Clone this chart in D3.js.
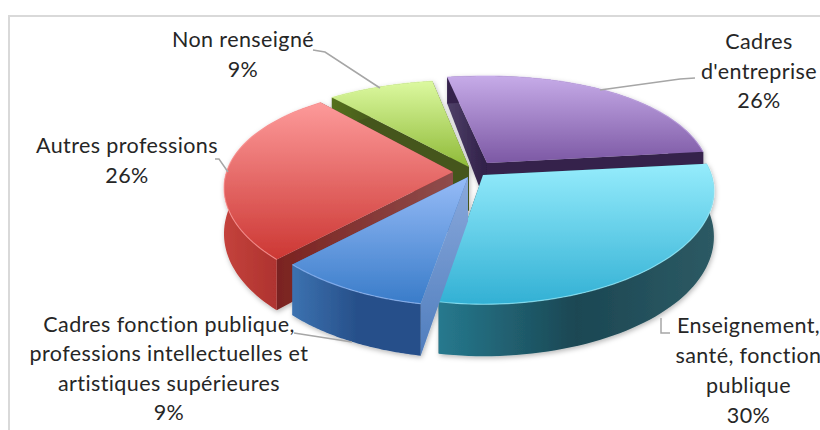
<!DOCTYPE html>
<html><head><meta charset="utf-8">
<script src="https://cdn.jsdelivr.net/npm/d3@7/dist/d3.min.js"></script>
<style>html,body{margin:0;padding:0;background:#fff;overflow:hidden}svg{display:block}</style>
</head><body><svg id="c" width="820" height="430"></svg>
<script>
// ---- data ----
const categories = ["Cadres d'entreprise","Enseignement, santé, fonction publique","Cadres fonction publique, professions intellectuelles et artistiques supérieures","Autres professions","Non renseigné"];
const values = [26.24, 29.6, 9.49, 26.16, 8.51];
const topLight = ["#c6abe8","#95ecfc","#96bbf7","#fd9a9a","#dcf9a0"];
const topDark  = ["#7c58a4","#32b0d4","#397cc9","#cc3733","#8fba38"];
const outerA   = ["#35234c","#26798e","#3c72b0","#c4423c","#55701f"];
const outerB   = ["#35234c","#1b4753","#27508a","#b03430","#44561f"];
const outerC   = ["#35234c","#2d5a64","#27508a","#a82c29","#44561f"];
const startWallA = ["#4f4068","#1b4753","#8aa9dc","#7a2320","#44561f"];
const startWallB = ["#2f1f47","#1b4753","#4f7dbd","#8f4c4c","#44561f"];
const endWallA   = ["#35234c","#1b4753","#3c6fb2","#8f4c4c","#44561f"];
const endWallB   = ["#35234c","#1b4753","#3c6fb2","#7a2320","#44561f"];
const labelLines = [["Cadres","d'entreprise"],["Enseignement,","santé, fonction","publique"],["Cadres fonction publique,","professions intellectuelles et","artistiques supérieures"],["Autres professions"],["Non renseigné"]];
const drawOrder = [0,4,3,1,2];

// ---- layout ----
const W=820,H=430,R=235,cx=470,cy=170,startDeg=-10.5,persp=.15;
const sliceDX=[17,13,-2,-17,-1], sliceDY=[-7,5,7,2,-3];
const kxLeft=[1.09,.9,.96,.964,1], kxRight=[.94,.972,1,1,1];
const horizontalStartWall=[true,false,false,true,false];
const labelLayout=[
 {x:759,y:49,lh:29.5,leader:[[695,78],[680,79],[600,90]]},
 {x:748.5,y:333,lh:30,leader:[[670,333],[661,333],[661,318]]},
 {x:169,y:332,lh:29.3,leader:[[294,333],[352,342]]},
 {x:127,y:153,lh:30,leader:[[215,159],[219,159],[228,172]]},
 {x:243,y:47,lh:30,leader:[[313,50],[325,52],[380,88]]}
];
const svg=d3.select("#c");
svg.append("rect").attr("width",W).attr("height",H).attr("fill","#fff");
svg.append("path").attr("d",d3.line()([[9,430],[9,16],[820,16]])).attr("fill","none").attr("stroke","#d9d9d9").attr("stroke-width",2);

const defs=svg.append("defs");
const f=defs.append("filter").attr("id","sh").attr("x","-10%").attr("y","-10%").attr("width","120%").attr("height","120%");
f.append("feDropShadow").attr("dx",1).attr("dy",2).attr("stdDeviation",2.5).attr("flood-color","#000").attr("flood-opacity",.28);
const grad=(id,c,x2,y2)=>{const g=defs.append("linearGradient").attr("id",id).attr("x1",0).attr("y1",0).attr("x2",x2).attr("y2",y2);
  c.forEach((col,i)=>g.append("stop").attr("offset",i/(c.length-1)).attr("stop-color",col));return `url(#${id})`;};

const depth=t=>44+13*t-5*t*t;
function P(i,a,r,bottom){
  const s=r*Math.sin(a), X=s*(s<0?kxLeft[i]:kxRight[i]), t=-r*Math.cos(a)/R;
  return [cx+sliceDX[i]+X*(1+persp*t), cy+sliceDY[i]+R*(.46*t+.09*t*t)+(bottom?depth(t):0)];
}
const pie=d3.pie().sort(null).startAngle(startDeg*Math.PI/180).endAngle((startDeg+360)*Math.PI/180)(values);
const line=d3.line();
const pg=svg.append("g").attr("filter","url(#sh)");
drawOrder.forEach(i=>{
  const d=pie[i];
  const as=d3.range(0,61).map(k=>d.startAngle+(d.endAngle-d.startAngle)*k/60);
  const g=pg.append("g");
  const fT=grad("t"+i,[topLight[i],topDark[i]],0,1);
  const fO=grad("o"+i,[outerA[i],outerB[i],outerC[i]],1,0);
  const fS=grad("s"+i,[startWallA[i],startWallB[i]],horizontalStartWall[i]?1:0,horizontalStartWall[i]?0:1);
  const fE=grad("e"+i,[endWallA[i],endWallB[i]],0,1);
  // radial walls, rear one first
  [{a:d.startAngle,c:fS},{a:d.endAngle,c:fE}].sort((p,q)=>Math.cos(q.a)-Math.cos(p.a)).forEach(w=>{
    g.append("path").attr("d",line([P(i,0,0,false),P(i,w.a,R,false),P(i,w.a,R,true),P(i,0,0,true)])+"Z").attr("fill",w.c);
  });
  // outer wall
  const tp=as.map(a=>P(i,a,R,false)), bt=as.map(a=>P(i,a,R,true)).reverse();
  g.append("path").attr("d",line(tp.concat(bt))+"Z").attr("fill",fO);
  // top
  g.append("path").attr("d",line([P(i,0,0,false)].concat(tp))+"Z").attr("fill",fT);
  g.append("path").attr("d",line(tp)).attr("fill","none").attr("stroke",topLight[i]).attr("stroke-opacity",.7).attr("stroke-width",1.2);
});

// ---- labels ----
const pct=d3.format(".0f");
labelLayout.forEach((L,i)=>{
  svg.append("path").attr("d",line(L.leader)).attr("fill","none").attr("stroke","#a6a6a6").attr("stroke-width",1.5);
  const t=svg.append("text").attr("text-anchor","middle").attr("font-family","Lato, 'Noto Sans', sans-serif").attr("font-size",21.5).attr("letter-spacing",.4).attr("fill","#262626");
  labelLines[i].concat([pct(values[i])+"%"]).forEach((s,k)=>t.append("tspan").attr("x",L.x).attr("y",L.y+k*L.lh).text(s));
});
</script></body></html>
